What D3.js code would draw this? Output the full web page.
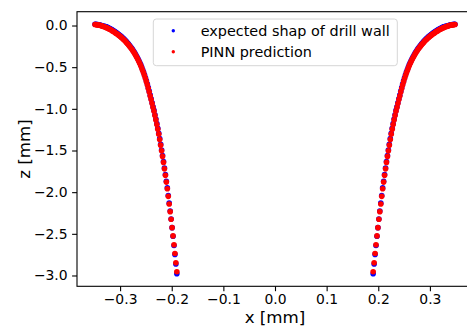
<!DOCTYPE html>
<html>
<head>
<meta charset="utf-8">
<script src="https://cdn.jsdelivr.net/npm/d3@7"></script>
<style>
  body { margin: 0; background: #fff; }
  text { font-family: "DejaVu Sans", sans-serif; fill: #000; }
</style>
</head>
<body>
<svg id="chart" width="467" height="329"></svg>
<script>
// wall profile, left branch (x in mm)
var xLeft = [
  -0.3486, -0.3468, -0.3449, -0.3431, -0.3412, -0.3394, -0.3375, -0.3357, -0.3339, -0.3320,
  -0.3302, -0.3283, -0.3265, -0.3246, -0.3228, -0.3210, -0.3191, -0.3173, -0.3154, -0.3136,
  -0.3117, -0.3099, -0.3081, -0.3062, -0.3044, -0.3025, -0.3007, -0.2988, -0.2970, -0.2952,
  -0.2933, -0.2915, -0.2896, -0.2878, -0.2859, -0.2841, -0.2823, -0.2804, -0.2786, -0.2767,
  -0.2749, -0.2730, -0.2712, -0.2694, -0.2675, -0.2657, -0.2638, -0.2620, -0.2601, -0.2583,
  -0.2565, -0.2546, -0.2528, -0.2509, -0.2491, -0.2472, -0.2454, -0.2436, -0.2417, -0.2399,
  -0.2380, -0.2362, -0.2343, -0.2325, -0.2307, -0.2288, -0.2270, -0.2251, -0.2233, -0.2214,
  -0.2196, -0.2178, -0.2159, -0.2141, -0.2122, -0.2104, -0.2085, -0.2067, -0.2049, -0.2030,
  -0.2012, -0.1993, -0.1975, -0.1956, -0.1938, -0.1920, -0.1901];

var xRight = [
  0.3486, 0.3468, 0.3449, 0.3431, 0.3412, 0.3394, 0.3375, 0.3357, 0.3339, 0.3320,
  0.3302, 0.3283, 0.3265, 0.3246, 0.3228, 0.3210, 0.3191, 0.3173, 0.3154, 0.3136,
  0.3117, 0.3099, 0.3081, 0.3062, 0.3044, 0.3025, 0.3007, 0.2988, 0.2970, 0.2952,
  0.2933, 0.2915, 0.2896, 0.2878, 0.2859, 0.2841, 0.2823, 0.2804, 0.2786, 0.2767,
  0.2749, 0.2730, 0.2712, 0.2694, 0.2675, 0.2657, 0.2638, 0.2620, 0.2601, 0.2583,
  0.2565, 0.2546, 0.2528, 0.2509, 0.2491, 0.2472, 0.2454, 0.2436, 0.2417, 0.2399,
  0.2380, 0.2362, 0.2343, 0.2325, 0.2307, 0.2288, 0.2270, 0.2251, 0.2233, 0.2214,
  0.2196, 0.2178, 0.2159, 0.2141, 0.2122, 0.2104, 0.2085, 0.2067, 0.2049, 0.2030,
  0.2012, 0.1993, 0.1975, 0.1956, 0.1938, 0.1920, 0.1901];

// depth z (mm) of the expected wall
var zExpected = [
  0.016, 0.015, 0.013, 0.011, 0.009, 0.006, 0.003, 0.000, -0.004, -0.008,
  -0.010, -0.013, -0.016, -0.021, -0.026, -0.032, -0.039, -0.045, -0.052, -0.059,
  -0.066, -0.074, -0.082, -0.090, -0.099, -0.108, -0.117, -0.126, -0.136, -0.146,
  -0.157, -0.168, -0.180, -0.193, -0.206, -0.219, -0.233, -0.248, -0.263, -0.279,
  -0.296, -0.314, -0.333, -0.353, -0.374, -0.396, -0.419, -0.443, -0.469, -0.497,
  -0.527, -0.558, -0.591, -0.626, -0.664, -0.703, -0.746, -0.788, -0.836, -0.879,
  -0.927, -0.975, -1.019, -1.071, -1.123, -1.178, -1.234, -1.294, -1.358, -1.426,
  -1.494, -1.561, -1.633, -1.710, -1.788, -1.869, -1.949, -2.040, -2.132, -2.226,
  -2.322, -2.426, -2.530, -2.640, -2.747, -2.862, -2.980];

// depth z (mm) predicted by the PINN
var zPredicted = [
  0.012, 0.011, 0.009, 0.007, 0.005, 0.002, -0.001, -0.004, -0.008, -0.012,
  -0.016, -0.021, -0.026, -0.031, -0.036, -0.042, -0.049, -0.055, -0.062, -0.069,
  -0.076, -0.084, -0.092, -0.100, -0.109, -0.118, -0.127, -0.136, -0.146, -0.156,
  -0.167, -0.178, -0.190, -0.203, -0.216, -0.229, -0.243, -0.258, -0.273, -0.289,
  -0.306, -0.324, -0.343, -0.363, -0.384, -0.406, -0.429, -0.453, -0.479, -0.507,
  -0.537, -0.568, -0.601, -0.636, -0.674, -0.713, -0.756, -0.798, -0.846, -0.889,
  -0.937, -0.985, -1.029, -1.081, -1.133, -1.188, -1.244, -1.304, -1.368, -1.436,
  -1.504, -1.571, -1.643, -1.720, -1.798, -1.879, -1.959, -2.050, -2.142, -2.234,
  -2.325, -2.426, -2.525, -2.632, -2.737, -2.848, -2.955];

var xTicks = [-0.3, -0.2, -0.1, 0.0, 0.1, 0.2, 0.3];
var yTicks = [0.0, -0.5, -1.0, -1.5, -2.0, -2.5, -3.0];

var seriesNames = ["expected shap of drill wall", "PINN prediction"];
var seriesColors = ["blue", "red"];

(function() {
  function branchPoints(zs) {
    return xLeft.map(function(x, i) { return [x, zs[i]]; })
      .concat(xRight.map(function(x, i) { return [x, zs[i]]; }));
  }

  var series = [branchPoints(zExpected), branchPoints(zPredicted)];

  var mLeft = 77, mTop = 11.7, mRight = 473, mBottom = 286.3;
  var fs = 13.9, tick = 4.9;

  var svg = d3.select("#chart");

  // matplotlib-like autoscale: data extent plus 5% each side
  var all = series[0].concat(series[1]);
  var xe = d3.extent(all, function(d) { return d[0]; }),
      ye = d3.extent(all, function(d) { return d[1]; });
  var xp = (xe[1] - xe[0]) * 0.05, yp = (ye[1] - ye[0]) * 0.05;

  var x = d3.scaleLinear().domain([xe[0] - xp, xe[1] + xp]).range([mLeft, mRight]);
  var y = d3.scaleLinear().domain([ye[0] - yp, ye[1] + yp]).range([mBottom, mTop]);

  var fmt = d3.format(".1f");

  var gx = svg.append("g")
    .attr("transform", "translate(0," + mBottom + ")")
    .call(d3.axisBottom(x).tickValues(xTicks).tickFormat(fmt)
      .tickSize(tick).tickPadding(3).tickSizeOuter(0));

  var gy = svg.append("g")
    .attr("transform", "translate(" + mLeft + ",0)")
    .call(d3.axisLeft(y).tickValues(yTicks).tickFormat(fmt)
      .tickSize(tick).tickPadding(4.5).tickSizeOuter(0));

  [gx, gy].forEach(function(g) {
    g.select(".domain").remove();
    g.selectAll(".tick line").attr("stroke", "#000").attr("stroke-width", 1.1);
    g.selectAll(".tick text").attr("font-size", fs).attr("font-family", "DejaVu Sans").attr("fill", "#000");
  });

  // points
  var dots = svg.append("g");
  series.forEach(function(pts, k) {
    dots.append("g").selectAll("circle")
      .data(pts)
      .enter().append("circle")
      .attr("cx", function(d) { return x(d[0]); })
      .attr("cy", function(d) { return y(d[1]); })
      .attr("r", 2.8)
      .attr("fill", seriesColors[k]);
  });

  // frame
  svg.append("rect")
    .attr("x", mLeft).attr("y", mTop)
    .attr("width", mRight - mLeft).attr("height", mBottom - mTop)
    .attr("fill", "none").attr("stroke", "#000").attr("stroke-width", 1.1);

  // axis labels
  svg.append("text")
    .attr("x", (mLeft + mRight) / 2).attr("y", 323)
    .attr("text-anchor", "middle").attr("font-size", 16.7)
    .text("x [mm]");

  svg.append("text")
    .attr("transform", "translate(29.8," + (mTop + mBottom) / 2 + ") rotate(-90)")
    .attr("text-anchor", "middle").attr("font-size", 16.7)
    .text("z [mm]");

  // legend
  var lg = svg.append("g").attr("transform", "translate(153.3,19)");
  lg.append("rect")
    .attr("width", 244).attr("height", 46.7).attr("rx", 3)
    .attr("fill", "#fff").attr("fill-opacity", 0.8)
    .attr("stroke", "#d6d6d6").attr("stroke-width", 1);

  var items = lg.selectAll("g.item")
    .data(seriesNames)
    .enter().append("g")
    .attr("transform", function(d, i) { return "translate(0," + (11.7 + i * 21) + ")"; });

  items.append("circle")
    .attr("cx", 20).attr("cy", 0).attr("r", 1.7)
    .attr("fill", function(d, i) { return seriesColors[i]; });

  items.append("text")
    .attr("x", 47.4).attr("y", 5.2)
    .attr("font-size", 14.4)
    .text(function(d) { return d; });
})();
</script>
</body>
</html>
